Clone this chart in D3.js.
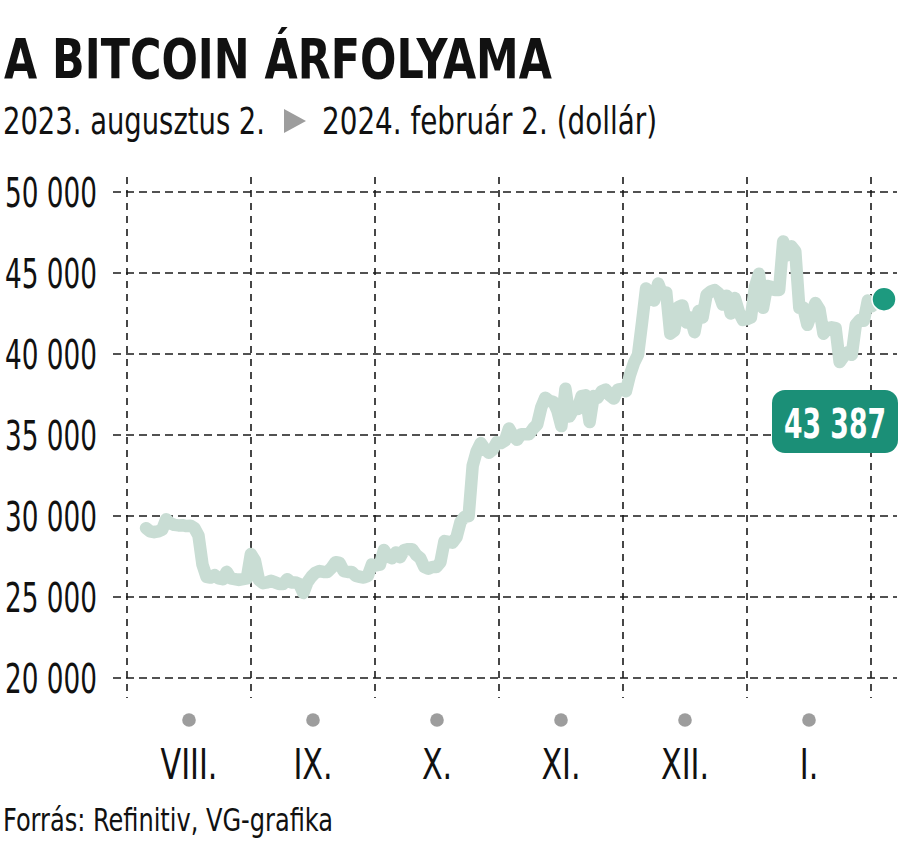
<!DOCTYPE html>
<html><head><meta charset="utf-8">
<script src="https://cdn.jsdelivr.net/npm/d3@7"></script>
<style>
body{margin:0;background:#fff;}
svg text{font-family:"Liberation Sans Narrow","DejaVu Sans Condensed","Roboto Condensed","DejaVu Sans",sans-serif;fill:#111;}
</style></head><body>
<svg id="c" width="900" height="860"></svg>
<script>
// ---- data ----
const titleText = "A BITCOIN ÁRFOLYAMA";
const subtitleFrom = "2023. augusztus 2.";
const subtitleTo = "2024. február 2. (dollár)";
const sourceText = "Forrás: Refinitiv, VG-grafika";
const periodStart = "2023-08-02";
const periodEnd = "2024-02-02";
const firstDate = "2023-08-03";
const augValues = [29250,29050,29000,29050,29150,29800,29550,29450,29420,29430,29380,29400,29250,28800,27000,26250,26200,26350,26150,26100,26550,26150,26100,26050,26100,26150,27650,27250,26050];
const sepValues = [25850,25900,26000,25900,25800,25800,26100,25900,25900,25800,25250,25900,26250,26500,26600,26550,26550,26800,27150,27100,26600,26550,26550,26300,26250,26200,26300,27000,26950,27000];
const octValues = [27900,27500,27400,27750,27450,27900,27950,27950,27600,27400,26850,26750,26850,26850,27150,28450,28400,28350,28700,29650,29950,30000,33100,34000,34500,34150,33900,34100,34550,34500,34650];
const novValues = [35400,34950,34700,35050,35050,35050,35400,35650,36700,37300,37100,37050,36500,35550,37850,36150,36600,36600,37400,37450,35800,37400,37300,37700,37800,37450,37250,37800,37850,37700];
const decValues = [38700,39450,39950,41950,44050,43750,43300,44350,43700,43800,41250,41450,42900,43000,41950,42250,41350,42650,42250,43650,43850,43950,43750,43050,43600,42500,43450,42600,42100,42150,42250];
const janValues = [44150,44950,42850,44200,44150,43950,43950,46950,46100,46650,46350,42850,42850,41800,42500,43150,42750,41250,41600,41650,41600,39500,39850,40100,39950,41800,42100,42050,43300,42950];
const lastValue = 43387;
const lastDate = "2024-02-02";
const monthLabels = ["VIII.","IX.","X.","XI.","XII.","I."];
const yTicks = [20000,25000,30000,35000,40000,45000,50000];

// ---- build ----
const parse = d3.timeParse("%Y-%m-%d");
const allValues = [].concat(augValues, sepValues, octValues, novValues, decValues, janValues);
const d0 = parse(firstDate);
const series = allValues.map((v,i)=>({date: d3.timeDay.offset(d0,i), value:v}));

const svg = d3.select("#c");
const fmt = d3.formatLocale({decimal:",", thousands:"\u00a0", grouping:[3], currency:["",""]}).format(",d");

const x = d3.scaleTime().domain([parse(periodStart), parse(periodEnd)]).range([142, 884]);
const y = d3.scaleLinear().domain([20000, 50000]).range([678, 192]);
const gridX = d3.scaleLinear().domain([0, monthLabels.length]).range([127, 871]);

// condensed text helper: squeeze horizontally to emulate a condensed face
function condensed(sel, sx){
  sel.each(function(){
    const t = d3.select(this);
    const tx = +t.attr("x"), ty = +t.attr("y");
    t.attr("x",0).attr("y",0).attr("transform",`translate(${tx},${ty}) scale(${sx},1)`);
  });
  return sel;
}

// title
svg.append("text").attr("x",4).attr("y",78).attr("font-size",55).attr("font-weight","bold")
  .attr("textLength",548).attr("lengthAdjust","spacingAndGlyphs").text(titleText);
svg.append("text").attr("x",3).attr("y",134).attr("font-size",37)
  .attr("textLength",262).attr("lengthAdjust","spacingAndGlyphs").text(subtitleFrom);
svg.append("path").attr("d","M284,109L306,121L284,133Z").attr("fill","#9d9d9d");
svg.append("text").attr("x",322).attr("y",134).attr("font-size",37)
  .attr("textLength",335).attr("lengthAdjust","spacingAndGlyphs").text(subtitleTo);

// grid
const grid = svg.append("g").attr("stroke","#1a1a1a").attr("stroke-width",1.6).attr("stroke-dasharray","8,5");
grid.selectAll("line.h").data(yTicks).join("line").attr("class","h")
  .attr("x1",113).attr("x2",897).attr("y1",d=>y(d)).attr("y2",d=>y(d));
grid.selectAll("line.v").data(d3.range(monthLabels.length+1)).join("line").attr("class","v")
  .attr("x1",d=>gridX(d)).attr("x2",d=>gridX(d)).attr("y1",177).attr("y2",698)
  .attr("stroke-dasharray","7,6");

// y labels
svg.append("g").selectAll("text").data(yTicks).join("text")
  .attr("x",5).attr("y",d=>y(d)).attr("dy","0.36em")
  .attr("font-size",41).attr("textLength",92).attr("lengthAdjust","spacingAndGlyphs").text(d=>fmt(d));

// month dots & labels
svg.append("g").selectAll("circle").data(monthLabels).join("circle")
  .attr("cx",(d,i)=>gridX(i+0.5)).attr("cy",720).attr("r",6.8).attr("fill","#9d9d9d");
condensed(svg.append("g").selectAll("text").data(monthLabels).join("text")
  .attr("x",(d,i)=>gridX(i+0.5)).attr("y",779).attr("text-anchor","middle")
  .attr("font-size",43).text(d=>d), 0.78);

// line
const line = d3.line().x(d=>x(d.date)).y(d=>y(d.value));
svg.append("path").datum(series).attr("d",line).attr("fill","none")
  .attr("stroke","#c9ddd4").attr("stroke-width",12.5).attr("stroke-linejoin","round").attr("stroke-linecap","round");

// last point
svg.append("circle").attr("cx",x(parse(lastDate))).attr("cy",y(lastValue)).attr("r",12)
  .attr("fill","#1d9a7f").attr("stroke","#fff").attr("stroke-width",1.5);

// value box
svg.append("rect").attr("x",772).attr("y",390).attr("width",126).attr("height",63).attr("rx",13)
  .attr("fill","#1b8f77");
svg.append("text").attr("x",784).attr("y",438).attr("font-size",41)
  .attr("font-weight","bold").attr("textLength",102).attr("lengthAdjust","spacingAndGlyphs")
  .style("fill","#fff").text(fmt(lastValue));

// source
svg.append("text").attr("x",3).attr("y",831).attr("font-size",32)
  .attr("textLength",330).attr("lengthAdjust","spacingAndGlyphs").text(sourceText);
</script>
</body></html>
